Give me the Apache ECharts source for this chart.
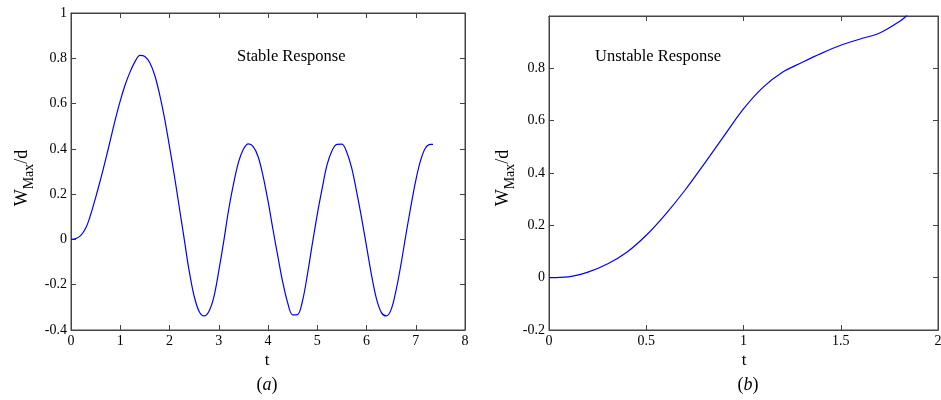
<!DOCTYPE html>
<html><head><meta charset="utf-8">
<script src="https://cdn.jsdelivr.net/npm/echarts@6/dist/echarts.min.js"></script>
<style>html,body{margin:0;padding:0;background:#fff}#c{width:941px;height:400px}</style>
</head><body><div id="c"></div>
<script>
// ---- data ----
const stableT = [0,0.1,0.2,0.3,0.4,0.5,0.6,0.7,0.8,0.9,1.0,1.1,1.2,1.3,1.4,1.5,1.6,1.7,1.8,1.9,
  2.0,2.1,2.2,2.3,2.4,2.5,2.6,2.7,2.8,2.9,3.0,3.1,3.2,3.3,3.4,3.5,3.6,3.7,3.8,3.9,
  4.0,4.1,4.2,4.3,4.4,4.5,4.6,4.7,4.8,4.9,5.0,5.1,5.2,5.3,5.4,5.5,5.6,5.7,5.8,5.9,
  6.0,6.1,6.2,6.3,6.4,6.5,6.6,6.7,6.8,6.9,7.0,7.1,7.2,7.3,7.35];
const stableW = [0,0.004,0.018,0.05,0.11,0.185,0.265,0.35,0.44,0.53,0.612,0.683,0.74,0.785,0.813,0.808,0.78,0.725,0.64,0.535,
  0.41,0.28,0.14,0.0,-0.14,-0.25,-0.317,-0.338,-0.318,-0.255,-0.14,-0.01,0.13,0.245,0.34,0.398,0.422,0.41,0.365,0.28,
  0.17,0.045,-0.075,-0.19,-0.28,-0.333,-0.332,-0.272,-0.155,-0.02,0.11,0.225,0.33,0.392,0.42,0.421,0.385,0.315,0.21,0.095,
  -0.03,-0.155,-0.26,-0.322,-0.338,-0.31,-0.225,-0.11,0.02,0.145,0.26,0.35,0.405,0.42,0.42];
const unstableT = [0,0.1,0.2,0.3,0.4,0.5,0.6,0.7,0.8,0.9,1.0,1.1,1.2,1.3,1.4,1.5,1.6,1.7,1.8,1.83,1.86];
const unstableW = [0,0.003,0.021,0.052,0.097,0.162,0.243,0.335,0.437,0.542,0.645,0.727,0.785,0.822,0.857,0.888,0.912,0.935,0.978,0.995,1.02];
const axisA = {xMin:0, xMax:8, xStep:1, yMin:-0.4, yMax:1, yStep:0.2};
const axisB = {xMin:0, xMax:2, xStep:0.5, yMin:-0.2, yMax:1, yStep:0.2};
const titleA = 'Stable Response', titleB = 'Unstable Response';
const capA = 'a', capB = 'b';

const FONT = '"Liberation Serif","Times New Roman",serif';
const AX = '#444';
const chart = echarts.init(document.getElementById('c'));

function xAx(g, a, pos, labels){
  return {type:'value', gridIndex:g, position:pos, min:a.xMin, max:a.xMax, interval:a.xStep,
    axisLine:{show:true, onZero:false, lineStyle:{color:AX, width:1}},
    axisTick:{show:true, inside:true, length:5, lineStyle:{color:AX}},
    axisLabel:{show:labels, color:'#000', fontFamily:FONT, fontSize:14, margin:4},
    splitLine:{show:false}};
}
function yAx(g, a, pos, labels, showMax){
  return {type:'value', gridIndex:g, position:pos, min:a.yMin, max:a.yMax, interval:a.yStep,
    axisLine:{show:true, onZero:false, lineStyle:{color:AX, width:1}},
    axisTick:{show:true, inside:true, length:5, lineStyle:{color:AX}},
    axisLabel:{show:labels, color:'#000', fontFamily:FONT, fontSize:14, margin:4, showMaxLabel:showMax},
    splitLine:{show:false}};
}

const cv = document.createElement('canvas').getContext('2d');
function tw(txt, size){ cv.font = size+'px "Liberation Serif"'; return cv.measureText(txt).width; }
function yLabel(x, y){
  const s1=18, s2=14;
  const w1=tw('W',s1), w2=tw('Max',s2), w3=tw('/d',s1);
  const x0 = -(w1+w2+w3)/2;
  return {type:'group', x:x, y:y, rotation:Math.PI/2, children:[
    {type:'text', x:x0, y:0, style:{text:'W', fontFamily:FONT, fontSize:s1, fill:'#000', verticalAlign:'middle'}},
    {type:'text', x:x0+w1, y:7, style:{text:'Max', fontFamily:FONT, fontSize:s2, fill:'#000', verticalAlign:'middle'}},
    {type:'text', x:x0+w1+w2, y:0, style:{text:'/d', fontFamily:FONT, fontSize:s1, fill:'#000', verticalAlign:'middle'}}
  ]};
}
function txt(t, x, y, size, align){
  return {type:'text', x:x, y:y, style:{text:t, fontFamily:FONT, fontSize:size, fill:'#000', align:align||'center', verticalAlign:'middle'}};
}
function cap(c, x, y){
  return {type:'text', x:x, y:y, style:{text:'({i|'+c+'})', fontFamily:FONT, fontSize:18, fill:'#000', align:'center', verticalAlign:'middle',
    rich:{i:{fontFamily:FONT, fontSize:18, fontStyle:'italic', fill:'#000'}}}};
}

chart.setOption({
  animation:false,
  backgroundColor:'#fff',
  grid:[
    {left:71, top:13, width:394, height:317, containLabel:false, outerBoundsMode:'none',
      show:true, borderColor:AX, borderWidth:1, backgroundColor:'transparent'},
    {left:549, top:16, width:389, height:314, containLabel:false, outerBoundsMode:'none',
      show:true, borderColor:AX, borderWidth:1, backgroundColor:'transparent'}
  ],
  xAxis:[xAx(0,axisA,'bottom',true), xAx(0,axisA,'top',false), xAx(1,axisB,'bottom',true), xAx(1,axisB,'top',false)],
  yAxis:[yAx(0,axisA,'left',true,true), yAx(0,axisA,'right',false,true), yAx(1,axisB,'left',true,false), yAx(1,axisB,'right',false,false)],
  series:[
    {type:'line', xAxisIndex:0, yAxisIndex:0, data:stableT.map((t,i)=>[t,stableW[i]]), showSymbol:false, smooth:0.35,
      lineStyle:{color:'#0000ff', width:1.2}, clip:true},
    {type:'line', xAxisIndex:2, yAxisIndex:2, data:unstableT.map((t,i)=>[t,unstableW[i]]), showSymbol:false, smooth:0.35,
      lineStyle:{color:'#0000ff', width:1.2}, clip:true}
  ],
  graphic:[
    txt(titleA, 237, 57, 16.5, 'left'),
    txt(titleB, 595, 57, 16.5, 'left'),
    txt('t', 267, 361, 17),
    txt('t', 744, 361, 17),
    cap(capA, 267, 385),
    cap(capB, 748, 385),
    yLabel(22, 178),
    yLabel(503, 178)
  ]
});
</script></body></html>
